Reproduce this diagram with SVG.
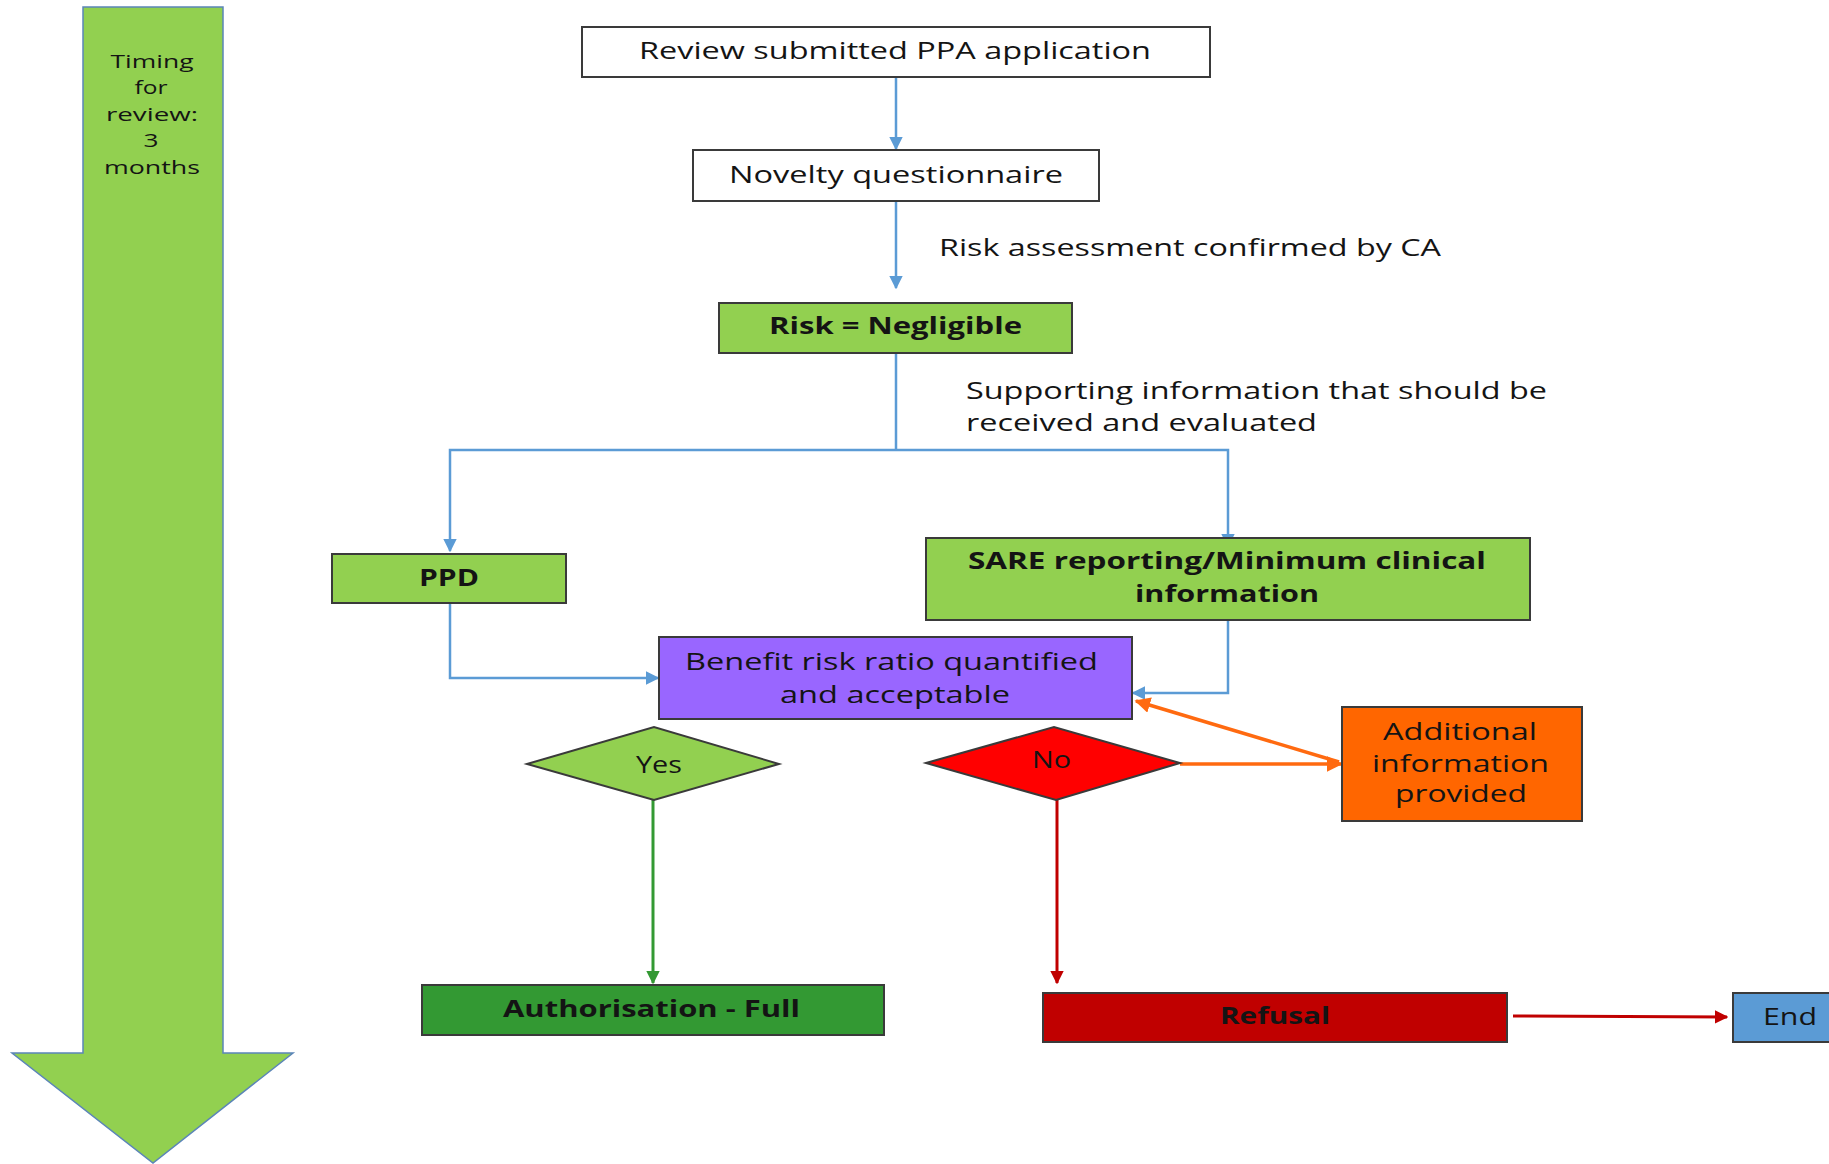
<svg xmlns="http://www.w3.org/2000/svg" width="1829" height="1164" viewBox="0 0 1829 1164">
  <style>
    text { font-family: "Open Sans", "Liberation Sans", sans-serif; font-size: 23px; fill: #141414; }
    .b { font-weight: bold; font-size: 23px; }
    .c { text-anchor: middle; }
    .t { font-size: 19px; }
    .box { stroke: #3a3a3a; stroke-width: 2; }
    .blue { fill: none; stroke: #5B9BD5; stroke-width: 2.5; }
    .orange { fill: none; stroke: #FF6A10; stroke-width: 3.5; }
    .green { fill: none; stroke: #339933; stroke-width: 3; }
    .red { fill: none; stroke: #C00000; stroke-width: 3; }
  </style>
  <defs>
    <marker id="ah-blue" viewBox="0 0 10 10" refX="9" refY="5" markerWidth="5.5" markerHeight="5.5" orient="auto" markerUnits="strokeWidth">
      <path d="M0,0 L10,5 L0,10 z" fill="#5B9BD5"/>
    </marker>
    <marker id="ah-orange" viewBox="0 0 10 10" refX="9" refY="5" markerWidth="4.5" markerHeight="4.5" orient="auto" markerUnits="strokeWidth">
      <path d="M0,0 L10,5 L0,10 z" fill="#FF6A10"/>
    </marker>
    <marker id="ah-green" viewBox="0 0 10 10" refX="9" refY="5" markerWidth="4.5" markerHeight="4.5" orient="auto" markerUnits="strokeWidth">
      <path d="M0,0 L10,5 L0,10 z" fill="#339933"/>
    </marker>
    <marker id="ah-red" viewBox="0 0 10 10" refX="9" refY="5" markerWidth="4.5" markerHeight="4.5" orient="auto" markerUnits="strokeWidth">
      <path d="M0,0 L10,5 L0,10 z" fill="#C00000"/>
    </marker>
  </defs>
  <rect width="1829" height="1164" fill="#ffffff"/>

  <!-- timeline arrow on the left -->
  <g id="timing">
    <path d="M83,7 L223,7 L223,1053 L293,1053 L153,1163 L12,1053 L83,1053 Z" fill="#92D050" stroke="#5B85B8" stroke-width="1.5"/>
    <text class="c t" x="152" y="68" textLength="83" lengthAdjust="spacingAndGlyphs">Timing</text>
    <text class="c t" x="151" y="94" textLength="33" lengthAdjust="spacingAndGlyphs">for</text>
    <text class="c t" x="152" y="121" textLength="92" lengthAdjust="spacingAndGlyphs">review:</text>
    <text class="c t" x="151" y="147" textLength="15" lengthAdjust="spacingAndGlyphs">3</text>
    <text class="c t" x="152" y="174" textLength="96" lengthAdjust="spacingAndGlyphs">months</text>
  </g>

  <!-- connectors -->
  <g id="connectors">
    <line class="blue" x1="896" y1="77" x2="896" y2="149" marker-end="url(#ah-blue)"/>
    <line class="blue" x1="896" y1="201" x2="896" y2="288" marker-end="url(#ah-blue)"/>
    <line class="blue" x1="896" y1="352" x2="896" y2="450"/>
    <polyline class="blue" points="896,450 450,450 450,551" marker-end="url(#ah-blue)"/>
    <polyline class="blue" points="896,450 1228,450 1228,546" marker-end="url(#ah-blue)"/>
    <polyline class="blue" points="450,603 450,678 658,678" marker-end="url(#ah-blue)"/>
    <polyline class="blue" points="1228,619 1228,693 1133,693" marker-end="url(#ah-blue)"/>
    <line class="orange" x1="1180" y1="764" x2="1341" y2="764" marker-end="url(#ah-orange)"/>
    <line class="orange" x1="1339" y1="762" x2="1136" y2="701" marker-end="url(#ah-orange)"/>
    <line class="green" x1="653" y1="800" x2="653" y2="983" marker-end="url(#ah-green)"/>
    <line class="red" x1="1057" y1="800" x2="1057" y2="983" marker-end="url(#ah-red)"/>
    <line class="red" x1="1513" y1="1016" x2="1727" y2="1017" stroke-width="4" marker-end="url(#ah-red)"/>
    <text x="939" y="256" textLength="502" lengthAdjust="spacingAndGlyphs">Risk assessment confirmed by CA</text>
    <text x="966" y="399" textLength="581" lengthAdjust="spacingAndGlyphs">Supporting information that should be</text>
    <text x="966" y="431" textLength="351" lengthAdjust="spacingAndGlyphs">received and evaluated</text>
  </g>

  <g id="review">
    <rect class="box" x="582" y="27" width="628" height="50" fill="#ffffff"/>
    <text x="639" y="59" textLength="512" lengthAdjust="spacingAndGlyphs">Review submitted PPA application</text>
  </g>

  <g id="novelty">
    <rect class="box" x="693" y="150" width="406" height="51" fill="#ffffff"/>
    <text x="729" y="183" textLength="334" lengthAdjust="spacingAndGlyphs">Novelty questionnaire</text>
  </g>

  <g id="risk">
    <rect class="box" x="719" y="303" width="353" height="50" fill="#92D050"/>
    <text class="b" x="769" y="334" textLength="253" lengthAdjust="spacingAndGlyphs">Risk = Negligible</text>
  </g>

  <g id="ppd">
    <rect class="box" x="332" y="554" width="234" height="49" fill="#92D050"/>
    <text class="b" x="419" y="586" textLength="60" lengthAdjust="spacingAndGlyphs">PPD</text>
  </g>

  <g id="sare">
    <rect class="box" x="926" y="538" width="604" height="82" fill="#92D050"/>
    <text class="b" x="968" y="569" textLength="518" lengthAdjust="spacingAndGlyphs">SARE reporting/Minimum clinical</text>
    <text class="b" x="1135" y="602" textLength="184" lengthAdjust="spacingAndGlyphs">information</text>
  </g>

  <g id="benefit">
    <rect class="box" x="659" y="637" width="473" height="82" fill="#9966FF"/>
    <text x="685" y="670" textLength="413" lengthAdjust="spacingAndGlyphs">Benefit risk ratio quantified</text>
    <text x="780" y="703" textLength="230" lengthAdjust="spacingAndGlyphs">and acceptable</text>
  </g>

  <g id="yes">
    <polygon class="box" points="527,764 654,727 779,764 654,800" fill="#92D050"/>
    <text x="636" y="773" textLength="46" lengthAdjust="spacingAndGlyphs">Yes</text>
  </g>

  <g id="no">
    <polygon class="box" points="926,763 1054,727 1180,763 1056,800" fill="#FF0000"/>
    <text x="1032" y="768" textLength="39" lengthAdjust="spacingAndGlyphs">No</text>
  </g>

  <g id="additional">
    <rect class="box" x="1342" y="707" width="240" height="114" fill="#FF6600"/>
    <text x="1383" y="740" textLength="154" lengthAdjust="spacingAndGlyphs">Additional</text>
    <text x="1372" y="772" textLength="177" lengthAdjust="spacingAndGlyphs">information</text>
    <text x="1395" y="802" textLength="132" lengthAdjust="spacingAndGlyphs">provided</text>
  </g>

  <g id="authorisation">
    <rect class="box" x="422" y="985" width="462" height="50" fill="#339933"/>
    <text class="b" x="503" y="1017" textLength="297" lengthAdjust="spacingAndGlyphs">Authorisation - Full</text>
  </g>

  <g id="refusal">
    <rect class="box" x="1043" y="993" width="464" height="49" fill="#C00000"/>
    <text class="b" x="1220" y="1024" textLength="110" lengthAdjust="spacingAndGlyphs">Refusal</text>
  </g>

  <g id="end">
    <rect class="box" x="1733" y="993" width="110" height="49" fill="#5B9BD5"/>
    <text x="1763" y="1025" textLength="54" lengthAdjust="spacingAndGlyphs">End</text>
  </g>
</svg>
